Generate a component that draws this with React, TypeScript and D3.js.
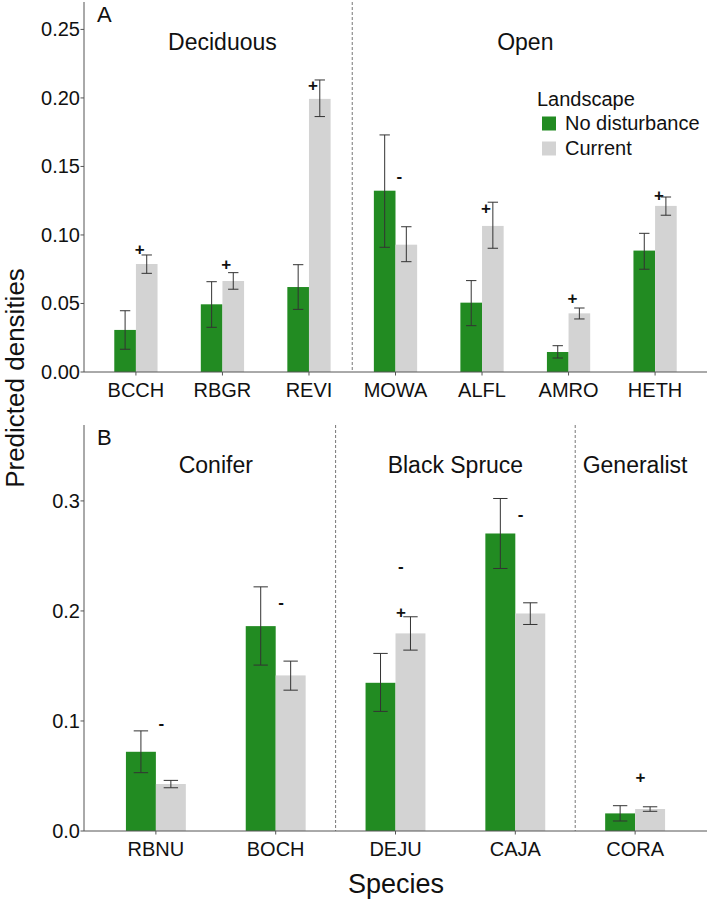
import React from "react";
import * as d3 from "d3";

// ---------- Panel A data ----------
const catsA = ["BCCH", "RBGR", "REVI", "MOWA", "ALFL", "AMRO", "HETH"];
const noDistA = [0.0307, 0.0494, 0.062, 0.1323, 0.0506, 0.0146, 0.0886];
const noDistLoA = [0.0166, 0.0326, 0.0457, 0.091, 0.0338, 0.0102, 0.075];
const noDistHiA = [0.0447, 0.0659, 0.0783, 0.173, 0.0667, 0.0192, 0.1012];
const currentA = [0.0788, 0.0664, 0.1993, 0.0929, 0.1066, 0.0428, 0.1212];
const currentLoA = [0.072, 0.0604, 0.1864, 0.0805, 0.0903, 0.0387, 0.1144];
const currentHiA = [0.0854, 0.0725, 0.2131, 0.106, 0.1239, 0.0467, 0.1277];
const marksA = [
  { cat: "BCCH", y: 0.089, s: "+" },
  { cat: "RBGR", y: 0.078, s: "+" },
  { cat: "REVI", y: 0.2088, s: "+" },
  { cat: "MOWA", y: 0.1426, s: "-" },
  { cat: "ALFL", y: 0.1188, s: "+" },
  { cat: "AMRO", y: 0.0533, s: "+" },
  { cat: "HETH", y: 0.1285, s: "+" },
];
const groupsA = [
  { label: "Deciduous", from: "BCCH", to: "REVI" },
  { label: "Open", from: "MOWA", to: "HETH" },
];
const ticksA = [0, 0.05, 0.1, 0.15, 0.2, 0.25];

// ---------- Panel B data ----------
const catsB = ["RBNU", "BOCH", "DEJU", "CAJA", "CORA"];
const noDistB = [0.072, 0.1862, 0.1347, 0.2704, 0.016];
const noDistLoB = [0.053, 0.1508, 0.1087, 0.2386, 0.0091];
const noDistHiB = [0.091, 0.2219, 0.1614, 0.3022, 0.023];
const currentB = [0.0427, 0.1414, 0.1796, 0.1977, 0.02];
const currentLoB = [0.0393, 0.128, 0.1644, 0.1877, 0.0179];
const currentHiB = [0.046, 0.1544, 0.1947, 0.2074, 0.022];
const marksB = [
  { cat: "RBNU", y: 0.0972, s: "-" },
  { cat: "BOCH", y: 0.2068, s: "-" },
  { cat: "DEJU", y: 0.24, s: "-" },
  { cat: "DEJU", y: 0.1983, s: "+" },
  { cat: "CAJA", y: 0.287, s: "-" },
  { cat: "CORA", y: 0.0481, s: "+" },
];
const groupsB = [
  { label: "Conifer", from: "RBNU", to: "BOCH" },
  { label: "Black Spruce", from: "DEJU", to: "CAJA" },
  { label: "Generalist", from: "CORA", to: "CORA" },
];
const ticksB = [0, 0.1, 0.2, 0.3];

const legendLabels = ["No disturbance", "Current"];
const GREEN = "#228B22";
const GREY = "#D3D3D3";
const FONT = "'Liberation Sans', Arial, Helvetica, sans-serif";
const AXIS = "#555";
const ERR = "#333";

type PanelProps = {
  letter: string;
  cats: string[];
  nd: number[];
  ndLo: number[];
  ndHi: number[];
  cur: number[];
  curLo: number[];
  curHi: number[];
  marks: { cat: string; y: number; s: string }[];
  groups: { label: string; from: string; to: string }[];
  ticks: number[];
  fmt: string;
  top: number;
  bottom: number;
  yMax: number;
  groupY: number;
};

function Panel(p: PanelProps) {
  const left = 84;
  const right = 707;
  const x = d3
    .scaleBand<string>()
    .domain(p.cats)
    .range([left, right])
    .paddingInner(0)
    .paddingOuter(0.1);
  const step = x.step();
  const cx = (c: string) => (x(c) as number) + step / 2;
  const y = d3.scaleLinear().domain([0, p.yMax]).range([p.bottom, p.top]);
  const bw = step * 0.25;
  const cap = step * 0.12;
  const f = d3.format(p.fmt);

  const seps = p.groups.slice(1).map((g) => cx(g.from) - step / 2);

  const errBar = (xc: number, lo: number, hi: number, key: string) => (
    <g key={key} stroke={ERR} strokeWidth={1} fill="none">
      <line x1={xc} x2={xc} y1={y(lo)} y2={y(hi)} />
      <line x1={xc - cap / 2} x2={xc + cap / 2} y1={y(lo)} y2={y(lo)} />
      <line x1={xc - cap / 2} x2={xc + cap / 2} y1={y(hi)} y2={y(hi)} />
    </g>
  );

  return (
    <g>
      {seps.map((sx, i) => (
        <line
          key={"sep" + i}
          x1={sx}
          x2={sx}
          y1={p.top}
          y2={p.bottom}
          stroke="#777"
          strokeWidth={1}
          strokeDasharray="3,2"
        />
      ))}
      {p.cats.map((c, i) => (
        <g key={c}>
          <rect
            x={cx(c) - bw}
            y={y(p.nd[i])}
            width={bw}
            height={y(0) - y(p.nd[i])}
            fill={GREEN}
          />
          <rect
            x={cx(c)}
            y={y(p.cur[i])}
            width={bw}
            height={y(0) - y(p.cur[i])}
            fill={GREY}
          />
        </g>
      ))}
      {p.cats.map((c, i) => errBar(cx(c) - bw / 2, p.ndLo[i], p.ndHi[i], "en" + c))}
      {p.cats.map((c, i) => errBar(cx(c) + bw / 2, p.curLo[i], p.curHi[i], "ec" + c))}
      {p.marks.map((m, i) => (
        <text
          key={"m" + i}
          x={cx(m.cat) + step * 0.045}
          y={y(m.y) + 5}
          textAnchor="middle"
          fontSize={17}
          fontWeight="bold"
          fontFamily={FONT}
          fill="#111"
        >
          {m.s}
        </text>
      ))}
      <line x1={left} x2={left} y1={p.top} y2={p.bottom} stroke={AXIS} strokeWidth={1} />
      <line x1={left} x2={right} y1={p.bottom} y2={p.bottom} stroke={AXIS} strokeWidth={1} />
      {p.ticks.map((t) => (
        <g key={"t" + t}>
          <line x1={left - 3.5} x2={left} y1={y(t)} y2={y(t)} stroke={AXIS} strokeWidth={1} />
          <text
            x={left - 4}
            y={y(t) + 7}
            textAnchor="end"
            fontSize={20}
            fontFamily={FONT}
            fill="#111"
          >
            {f(t)}
          </text>
        </g>
      ))}
      {p.cats.map((c) => (
        <g key={"xt" + c}>
          <line x1={cx(c)} x2={cx(c)} y1={p.bottom} y2={p.bottom + 3.5} stroke={AXIS} strokeWidth={1} />
          <text
            x={cx(c)}
            y={p.bottom + 25}
            textAnchor="middle"
            fontSize={20}
            fontFamily={FONT}
            fill="#111"
          >
            {c}
          </text>
        </g>
      ))}
      {p.groups.map((g) => (
        <text
          key={g.label}
          x={(cx(g.from) + cx(g.to)) / 2}
          y={p.groupY}
          textAnchor="middle"
          fontSize={23}
          fontFamily={FONT}
          fill="#111"
        >
          {g.label}
        </text>
      ))}
      <text x={97} y={p.top + 20} fontSize={22} fontFamily={FONT} fill="#111">
        {p.letter}
      </text>
    </g>
  );
}

export default function App() {
  return (
    <svg
      width={709}
      height={905}
      style={{ position: "absolute", left: 0, top: 0, background: "#fff" }}
    >
      <rect x={0} y={0} width={709} height={905} fill="#fff" />
      <Panel
        letter="A"
        cats={catsA}
        nd={noDistA}
        ndLo={noDistLoA}
        ndHi={noDistHiA}
        cur={currentA}
        curLo={currentLoA}
        curHi={currentHiA}
        marks={marksA}
        groups={groupsA}
        ticks={ticksA}
        fmt=".2f"
        top={2}
        bottom={372}
        yMax={0.27}
        groupY={50}
      />
      <Panel
        letter="B"
        cats={catsB}
        nd={noDistB}
        ndLo={noDistLoB}
        ndHi={noDistHiB}
        cur={currentB}
        curLo={currentLoB}
        curHi={currentHiB}
        marks={marksB}
        groups={groupsB}
        ticks={ticksB}
        fmt=".1f"
        top={425}
        bottom={831}
        yMax={0.369}
        groupY={473}
      />
      {/* legend */}
      <text x={537} y={106} fontSize={20} fontFamily={FONT} fill="#111">
        Landscape
      </text>
      {legendLabels.map((l, i) => (
        <g key={l}>
          <rect x={542} y={116.5 + i * 25} width={14} height={14} fill={i === 0 ? GREEN : GREY} />
          <text x={565} y={130 + i * 25} fontSize={20} fontFamily={FONT} fill="#111">
            {l}
          </text>
        </g>
      ))}
      {/* axis titles */}
      <text
        transform="translate(23.5,378) rotate(-90)"
        textAnchor="middle"
        fontSize={26}
        fontFamily={FONT}
        fill="#111"
      >
        Predicted densities
      </text>
      <text x={396} y={893} textAnchor="middle" fontSize={27} fontFamily={FONT} fill="#111">
        Species
      </text>
    </svg>
  );
}
